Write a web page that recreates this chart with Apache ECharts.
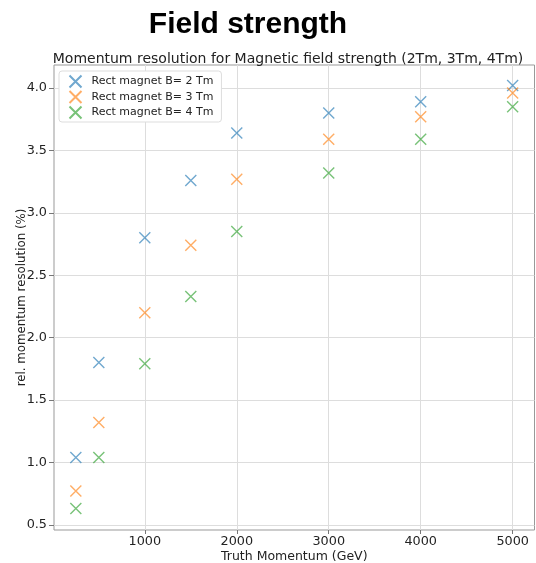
<!DOCTYPE html>
<html>
<head>
<meta charset="utf-8">
<script src="https://cdn.jsdelivr.net/npm/echarts@6/dist/echarts.min.js"></script>
<style>
  html, body { margin: 0; padding: 0; background: #fff; }
  #chart { width: 536px; height: 563px; }
</style>
</head>
<body>
<div id="chart"></div>
<script>
// momentum points (GeV)
const momentum = [250, 500, 1000, 1500, 2000, 3000, 4000, 5000];

// relative momentum resolution (%) per field strength
const res2Tm = [1.04, 1.80, 2.80, 3.26, 3.64, 3.80, 3.89, 4.02];
const res3Tm = [0.77, 1.32, 2.20, 2.74, 3.27, 3.59, 3.77, 3.96];
const res4Tm = [0.63, 1.04, 1.79, 2.33, 2.85, 3.32, 3.59, 3.85];

const seriesNames = ["Rect magnet B= 2 Tm", "Rect magnet B= 3 Tm", "Rect magnet B= 4 Tm"];
const xTicks = [1000, 2000, 3000, 4000, 5000];
const yTicks = [0.5, 1.0, 1.5, 2.0, 2.5, 3.0, 3.5, 4.0];

const colors = ["rgba(31,119,180,0.8)", "rgba(255,127,14,0.8)", "rgba(44,160,44,0.8)"];
const crossPath = "path://M0,0L10,10M0,10L10,0";
const FONT = "DejaVu Sans";

function makeSeries(name, vals, color) {
  return {
    name: name,
    type: "scatter",
    symbol: crossPath,
    symbolSize: 11,
    data: momentum.map((m, i) => [m, vals[i]]),
    itemStyle: { color: "none", borderColor: color, borderWidth: 1.4 },
    emphasis: { disabled: true }
  };
}

const chart = echarts.init(document.getElementById("chart"));

const option = {
  animation: false,
  backgroundColor: "#fff",
  title: [
    {
      text: "Field strength",
      left: 243,
      top: 5,
      textAlign: "center",
      textStyle: { fontFamily: "Liberation Sans", fontWeight: "bold", fontSize: 30, color: "#000" }
    },
    {
      text: "Momentum resolution for Magnetic field strength (2Tm, 3Tm, 4Tm)",
      left: 283,
      top: 47,
      textAlign: "center",
      textStyle: { fontFamily: FONT, fontWeight: "normal", fontSize: 14, color: "#222" }
    }
  ],
  legend: {
    left: 59,
    top: 71,
    orient: "vertical",
    data: seriesNames,
    itemWidth: 12,
    itemHeight: 12,
    itemGap: -1.5,
    padding: [2, 8, 1, 8],
    backgroundColor: "#fff",
    borderColor: "#ddd",
    borderWidth: 1,
    borderRadius: 3,
    textStyle: { fontFamily: FONT, fontSize: 11, lineHeight: 12, color: "#222", padding: [0, 0, 0, 5] }
  },
  grid: {
    left: 54,
    right: 1.5,
    top: 65,
    bottom: 33,
    outerBoundsMode: "none",
    containLabel: false,
    show: true,
    borderColor: "#999",
    borderWidth: 1
  },
  xAxis: {
    type: "value",
    min: 12.5,
    max: 5237.5,
    name: "Truth Momentum (GeV)",
    nameLocation: "middle",
    nameGap: 20,
    nameMoveOverlap: false,
    nameTextStyle: { fontFamily: FONT, fontSize: 12.5, color: "#222" },
    axisLine: { show: false },
    axisTick: { show: true, length: 4, lineStyle: { color: "#777" }, customValues: xTicks },
    axisLabel: {
      fontFamily: FONT, fontSize: 12.8, color: "#222", margin: 5,
      customValues: xTicks,
      formatter: (v) => String(v)
    },
    splitLine: { show: true, lineStyle: { color: "#ddd", width: 1 } }
  },
  yAxis: {
    type: "value",
    min: 0.458,
    max: 4.185,
    name: "rel. momentum resolution (%)",
    nameLocation: "middle",
    nameGap: 26,
    nameMoveOverlap: false,
    nameTextStyle: { fontFamily: FONT, fontSize: 11.8, color: "#222" },
    axisLine: { show: false },
    axisTick: { show: true, length: 5, lineStyle: { color: "#777" }, customValues: yTicks },
    axisLabel: {
      fontFamily: FONT, fontSize: 12.8, color: "#222", margin: 7,
      customValues: yTicks,
      formatter: (v) => v.toFixed(1)
    },
    splitLine: { show: true, lineStyle: { color: "#ddd", width: 1 } }
  },
  series: [
    makeSeries(seriesNames[0], res2Tm, colors[0]),
    makeSeries(seriesNames[1], res3Tm, colors[1]),
    makeSeries(seriesNames[2], res4Tm, colors[2])
  ]
};

chart.setOption(option);
</script>
</body>
</html>
